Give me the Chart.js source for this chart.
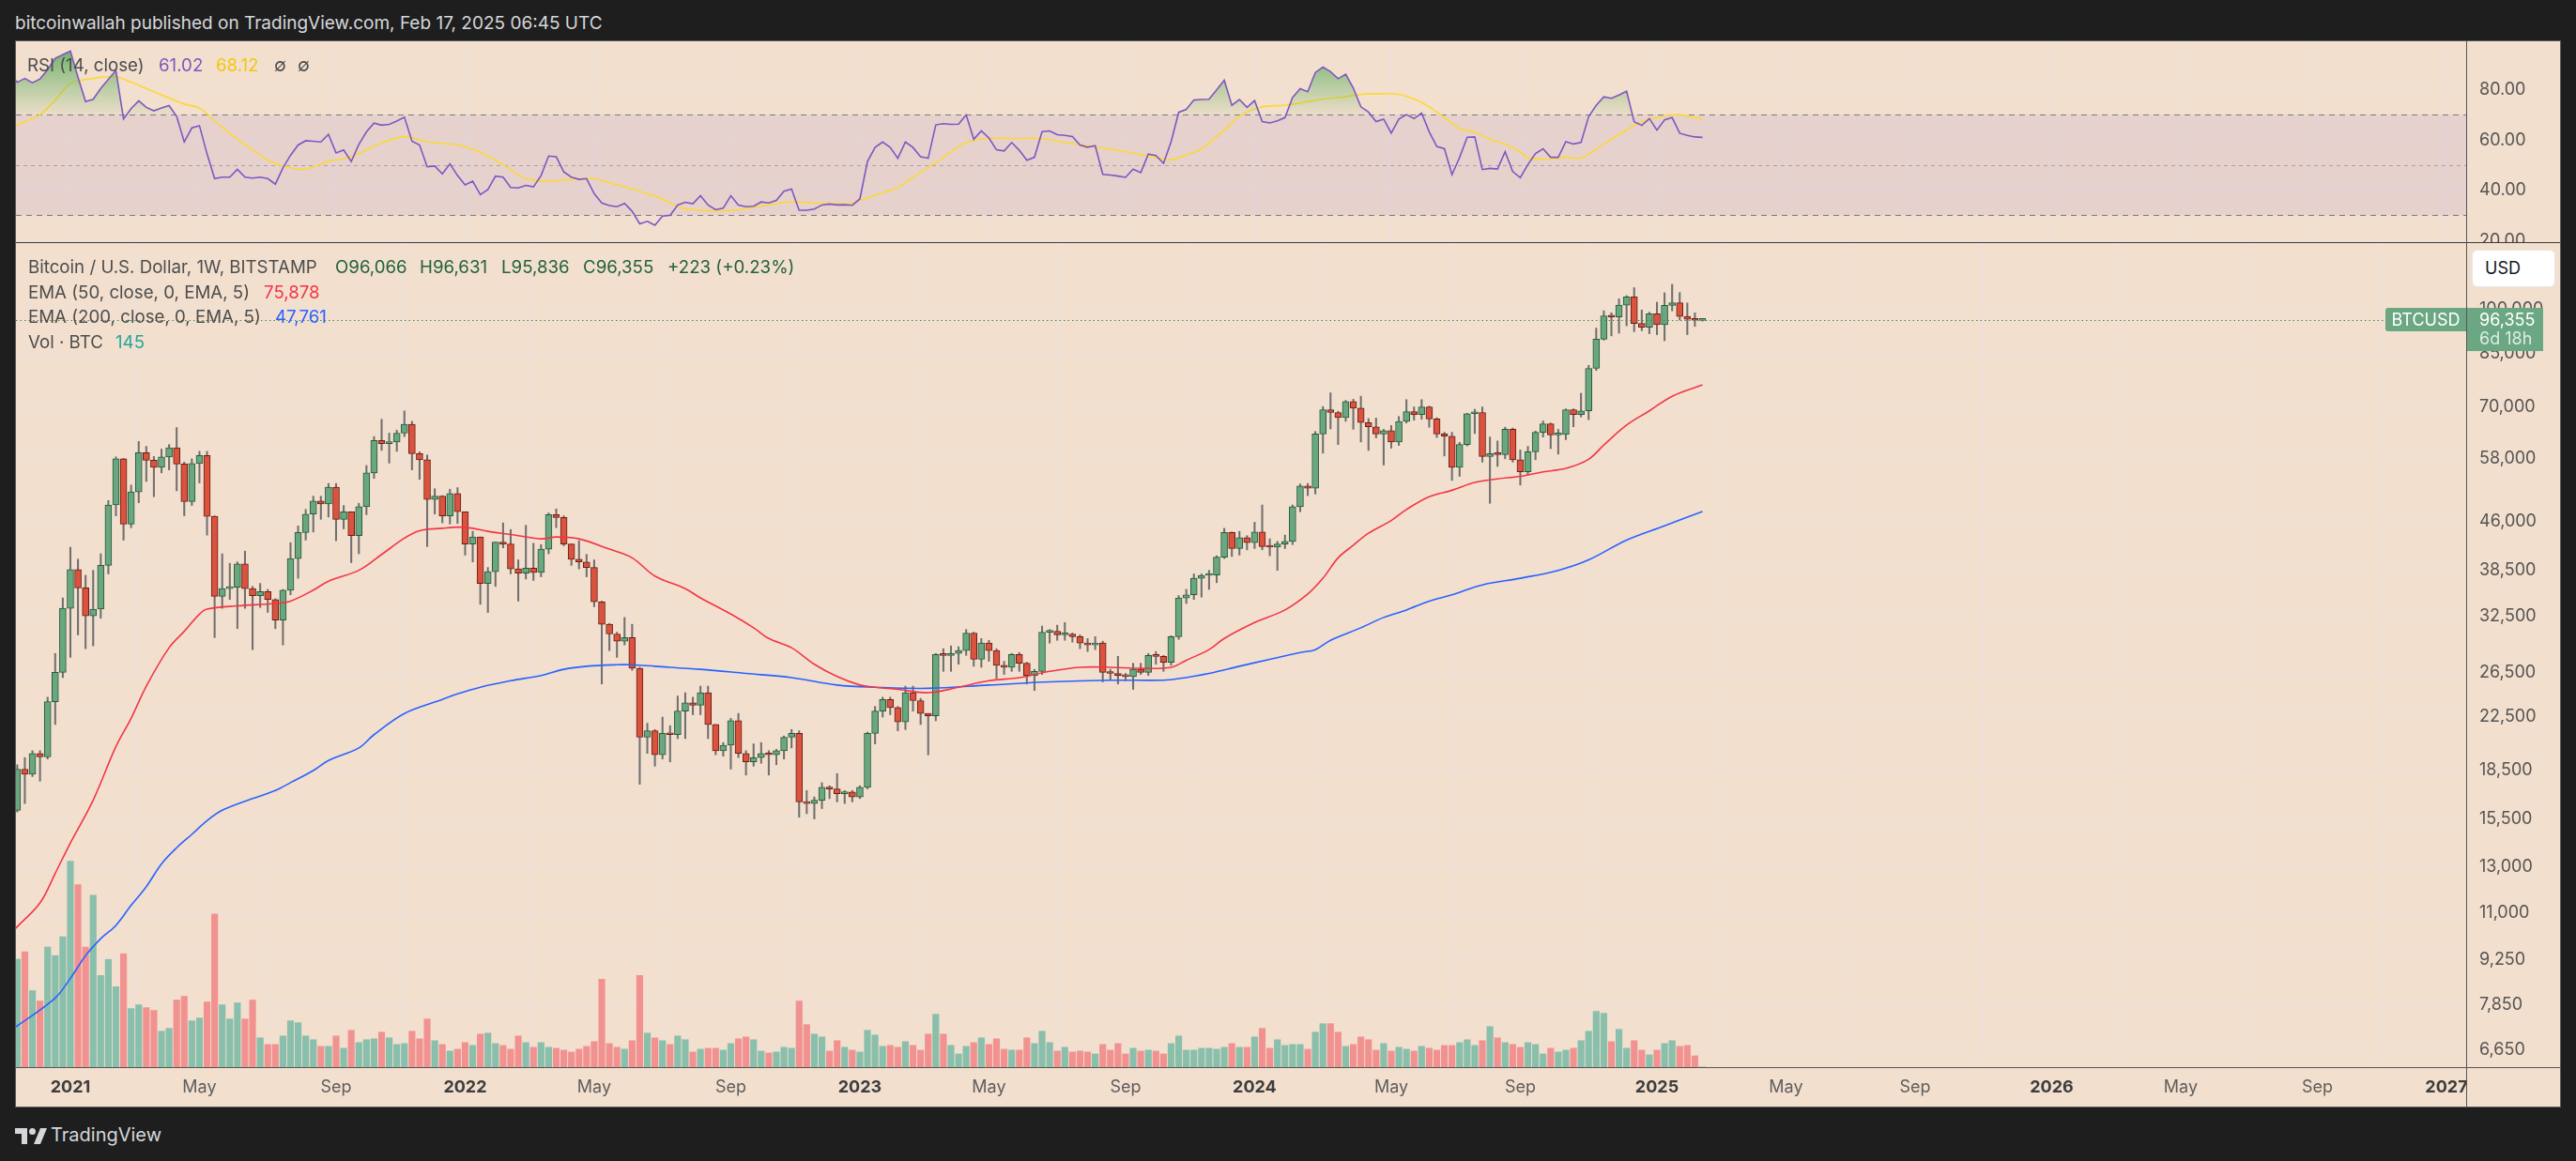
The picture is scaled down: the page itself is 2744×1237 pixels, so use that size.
<!DOCTYPE html>
<html>
<head>
<meta charset="utf-8">
<title>BTCUSD 1W - Bitstamp</title>
<script src="https://cdn.jsdelivr.net/npm/chart.js@4.4.1/dist/chart.umd.min.js"></script>
<style>
  html, body { margin: 0; padding: 0; }
  body { width: 2744px; height: 1237px; background: #1e1e1e; position: relative; overflow: hidden;
         font-family: Inter, "Noto Sans", "DejaVu Sans", sans-serif; }
  .abs { position: absolute; white-space: nowrap; }
  #frame { position: absolute; left: 16px; top: 43px; width: 2712px; height: 1137px; background: #f2dfce;
           box-sizing: border-box; border: 1px solid #5b5b5b; }
  canvas { position: absolute; }
  #rsiCanvas { left: 17px; top: 44px; }
  #mainCanvas { left: 17px; top: 259px; }
  .line { position: absolute; }
  .lg { position: absolute; white-space: nowrap; font-size: 18.7px; height: 22px; line-height: 22px; color: #4d4d4d; }
  .green { color: #22613d; }
</style>
</head>
<body>
<div class="abs" style="left:16px;top:13px;font-size:19px;line-height:24px;color:#d6d7db;">bitcoinwallah published on TradingView.com, Feb 17, 2025 06:45 UTC</div>
<div id="frame"></div>
<canvas id="rsiCanvas" width="2710" height="214"></canvas>
<canvas id="mainCanvas" width="2710" height="920"></canvas>
<div class="line" style="left:17px;top:258px;width:2710px;height:1px;background:#3b3b3b;"></div>
<div class="line" style="left:17px;top:1137px;width:2710px;height:1px;background:#555;"></div>
<div class="line" style="left:2627px;top:44px;width:1px;height:1135px;background:#555;"></div>

<!-- RSI legend -->
<div class="lg" style="left:29px;top:59px;">RSI (14, close)</div>
<div class="lg" id="rsiVal" style="left:169px;top:59px;color:#7e57c2;"></div>
<div class="lg" id="rsiMaVal" style="left:230px;top:59px;color:#f2c80f;"></div>
<div class="lg" style="left:292px;top:59px;">∅</div>
<div class="lg" style="left:317px;top:59px;">∅</div>

<!-- main legend -->
<div class="lg" style="left:30px;top:274px;">Bitcoin / U.S. Dollar, 1W, BITSTAMP</div>
<div class="lg green" id="oVal" style="left:357px;top:274px;"></div>
<div class="lg green" id="hVal" style="left:447px;top:274px;"></div>
<div class="lg green" id="lVal" style="left:534px;top:274px;"></div>
<div class="lg green" id="cVal" style="left:621px;top:274px;"></div>
<div class="lg green" id="chgVal" style="left:711px;top:274px;"></div>
<div class="lg" style="left:30px;top:301px;">EMA (50, close, 0, EMA, 5)</div>
<div class="lg" id="ema50Val" style="left:281px;top:301px;color:#f23645;"></div>
<div class="lg" style="left:30px;top:327px;">EMA (200, close, 0, EMA, 5)</div>
<div class="lg" id="ema200Val" style="left:293px;top:327px;color:#2962ff;"></div>
<div class="lg" style="left:30px;top:354px;">Vol · BTC</div>
<div class="lg" id="volVal" style="left:123px;top:354px;color:#26a69a;"></div>

<!-- currency box -->
<div class="abs" style="left:2633px;top:266px;width:89px;height:40px;background:#fff;border-radius:6px;border:1px solid #e6e6e6;box-sizing:border-box;">
  <div style="position:absolute;left:13px;top:8px;font-size:18px;line-height:22px;color:#131722;">USD</div>
</div>

<!-- footer logo -->
<svg class="abs" style="left:16px;top:1199px;" width="36" height="22" viewBox="0 0 36 22">
  <path d="M13 20H7V9H0V3h13z" fill="#d6d7db"/>
  <circle cx="18.5" cy="6.5" r="3.5" fill="#d6d7db"/>
  <path d="M27 20h-7l7-17h7z" fill="#d6d7db"/>
</svg>
<div class="abs" style="left:54px;top:1197px;font-size:20px;line-height:24px;color:#d6d7db;">TradingView</div>

<script>
// week index 0 = week of Jan 4, 2021; first candle is the week of Nov 16, 2020
const firstWeek = -7;

const opens = [
  16000, 18600, 18250, 19700, 19450, 23800, 26500, 33500, 38600, 36100,
  32600, 33400, 39200, 48900, 57900, 45600, 51300, 59200, 57600, 56100,
  58300, 60300, 56800, 49500, 56900, 58600, 46900, 35000, 36000, 36200,
  39400, 36000, 35100, 35600, 34600, 32100, 35800, 40200, 44200, 47300,
  49600, 49100, 52200, 46400, 47700, 43700, 48600, 55000, 61900, 61200,
  61600, 63600, 65700, 59000, 57700, 49900, 50500, 47000, 51000, 47700,
  42400, 43500, 36700, 38300, 42700, 42400, 38700, 38100, 38800, 38200,
  41600, 47200, 46700, 42400, 40100, 39700, 38900, 34300, 31600, 30500,
  29700, 30100, 26900, 20900, 21400, 19600, 21200, 21100, 23000, 23700,
  23500, 24600, 21900, 19900, 20300, 22200, 19700, 19100, 19400, 19700,
  19600, 19900, 20900, 21200, 16500, 16400, 16600, 17400, 17300, 17000,
  17100, 16800, 17400, 21200, 23000, 24000, 23300, 22100, 24600, 23900,
  22800, 22600, 28300, 28200, 28400, 28700, 30600, 27800, 29500, 28700,
  27200, 27000, 28300, 27400, 26200, 26600, 30700, 30800, 30400, 30500,
  30200, 29500, 29300, 29500, 26500, 26400, 26200, 26100, 26800, 26500,
  28200, 28100, 27500, 30200, 34800, 35200, 37400, 37800, 37850, 40400,
  44200, 41700, 43400, 42600, 44300, 42000, 41900, 42400, 42800, 48600,
  52400, 52000, 63400, 69300, 68600, 67300, 71400, 69700, 66100, 65100,
  63400, 64200, 61600, 66400, 68800, 68100, 70000, 67000, 63400, 62900,
  56100, 61000, 68300, 68600, 58400, 59000, 58800, 64500, 57700, 55200,
  59400, 63800, 65800, 63200, 63300, 69300, 68100, 69000, 80600, 89700,
  97700, 97300, 101600, 104700, 95000, 93700, 98400, 94600, 101500, 102500,
  97500, 96500, 96066
];
const highs = [
  18900, 19400, 19900, 19900, 24200, 28400, 34800, 41900, 40100, 37800,
  38500, 40900, 49700, 58300, 58000, 52600, 61700, 60600, 58400, 60000,
  61000, 64900, 57200, 57900, 59500, 59500, 47000, 40900, 39500, 39700,
  41300, 36300, 36700, 35900, 34700, 35900, 42600, 45300, 48100, 50500,
  50500, 52900, 52900, 48800, 47700, 49200, 56500, 62800, 66900, 63600,
  64300, 69000, 66400, 59400, 58700, 51900, 50600, 51800, 52100, 47600,
  44400, 43500, 38900, 42700, 45800, 44700, 40000, 45400, 42500, 42300,
  47500, 48200, 47000, 42400, 42900, 40800, 40000, 34400, 31700, 30700,
  32400, 31600, 27000, 22000, 21500, 22500, 21800, 24300, 24600, 24200,
  25200, 25200, 21900, 20500, 22400, 22800, 19900, 20400, 20500, 19900,
  20000, 21000, 21500, 21400, 17200, 16800, 17700, 17500, 18300, 17200,
  17200, 17500, 21300, 23400, 24200, 24200, 23400, 25200, 25200, 24100,
  22800, 28400, 28900, 29200, 29100, 31000, 30700, 30000, 29800, 28900,
  27600, 28400, 28500, 27500, 26800, 31400, 31000, 31500, 31800, 30600,
  30400, 30000, 30200, 29700, 26800, 28100, 26400, 27400, 27400, 28400,
  28600, 28200, 30300, 35100, 35900, 38000, 38000, 38500, 40600, 44900,
  44300, 44400, 43700, 45900, 48900, 43200, 42800, 43800, 48900, 52800,
  52900, 64000, 70100, 73700, 68900, 71700, 72000, 72800, 67100, 67200,
  64500, 65400, 67600, 71900, 70000, 71900, 70200, 67300, 63800, 63800,
  61500, 68400, 69400, 70000, 62700, 61800, 65000, 64800, 59800, 60600,
  64100, 66500, 66000, 64500, 69500, 69500, 73600, 81500, 93400, 99500,
  98800, 104000, 105200, 108300, 99800, 99000, 102700, 106300, 109600, 106400,
  102400, 98800, 96631
];
const lows = [
  15900, 16400, 18100, 17800, 19300, 21900, 26000, 28000, 30400, 28900,
  29200, 32300, 38000, 47000, 43000, 45000, 49300, 53300, 50400, 55000,
  55600, 51500, 47000, 48800, 53000, 43800, 30100, 33500, 34600, 31100,
  33500, 28800, 33600, 33000, 31100, 29300, 35200, 37400, 43000, 44300,
  46400, 46800, 42900, 44800, 39600, 40900, 47200, 53900, 59700, 57000,
  59500, 62800, 55600, 53700, 42000, 47300, 45800, 45600, 45700, 40700,
  39700, 34000, 33000, 36300, 41800, 38000, 34400, 37300, 37100, 37600,
  40900, 45000, 42100, 39200, 38700, 37600, 33700, 25400, 28700, 28000,
  29300, 26700, 17600, 19700, 18800, 19300, 19100, 20800, 20800, 22700,
  22700, 20800, 19600, 19500, 18600, 19400, 18200, 18800, 19000, 18200,
  18900, 19300, 20100, 15600, 15800, 15500, 16100, 16700, 16500, 16400,
  16500, 16700, 17300, 20400, 22500, 22700, 21400, 21500, 23000, 21900,
  19600, 22200, 26600, 26600, 27300, 28200, 27100, 27000, 27600, 25900,
  26300, 26600, 26600, 25400, 24800, 26300, 29500, 29800, 29800, 29600,
  28900, 28600, 28800, 25600, 25800, 25400, 25700, 24900, 26300, 26200,
  27300, 26600, 27200, 29900, 34100, 34600, 34900, 35900, 36800, 40200,
  40500, 40700, 41500, 41700, 41500, 40600, 38500, 41700, 42300, 47700,
  50600, 50900, 59100, 64600, 61000, 66400, 64500, 61600, 59700, 62500,
  56600, 60200, 60800, 66000, 66700, 66900, 65000, 62600, 58500, 53500,
  54300, 60700, 63500, 57200, 49200, 56300, 57900, 57200, 52600, 54600,
  57700, 62700, 60100, 58900, 62100, 65100, 67500, 66800, 80000, 89400,
  90800, 91700, 94200, 92200, 92500, 91500, 91200, 89200, 99500, 96200,
  91200, 94000, 95836
];
const closes = [
  18600, 18250, 19700, 19450, 23800, 26500, 33500, 38600, 36100, 32600,
  33400, 39200, 48900, 57900, 45600, 51300, 59200, 57600, 56100, 58300,
  60300, 56800, 49500, 56900, 58600, 46900, 35000, 36000, 36200, 39400,
  36000, 35100, 35600, 34600, 32100, 35800, 40200, 44200, 47300, 49600,
  49100, 52200, 46400, 47700, 43700, 48600, 55000, 61900, 61200, 61600,
  63600, 65700, 59000, 57700, 49900, 50500, 47000, 51000, 47700, 42400,
  43500, 36700, 38300, 42700, 42400, 38700, 38100, 38800, 38200, 41600,
  47200, 46700, 42400, 40100, 39700, 38900, 34300, 31600, 30500, 29700,
  30100, 26900, 20900, 21400, 19600, 21200, 21100, 23000, 23700, 23500,
  24600, 21900, 19900, 20300, 22200, 19700, 19100, 19400, 19700, 19600,
  19900, 20900, 21200, 16500, 16400, 16600, 17400, 17300, 17000, 17100,
  16800, 17400, 21200, 23000, 24000, 23300, 22100, 24600, 23900, 22800,
  22600, 28300, 28200, 28400, 28700, 30600, 27800, 29500, 28700, 27200,
  27000, 28300, 27400, 26200, 26600, 30700, 30800, 30400, 30500, 30200,
  29500, 29300, 29500, 26500, 26400, 26200, 26100, 26800, 26500, 28200,
  28100, 27500, 30200, 34800, 35200, 37400, 37800, 37850, 40400, 44200,
  41700, 43400, 42600, 44300, 42000, 41900, 42400, 42800, 48600, 52400,
  52000, 63400, 69300, 68600, 67300, 71400, 69700, 66100, 65100, 63400,
  64200, 61600, 66400, 68800, 68100, 70000, 67000, 63400, 62900, 56100,
  61000, 68300, 68600, 58400, 59000, 58800, 64500, 57700, 55200, 59400,
  63800, 65800, 63200, 63300, 69300, 68100, 69000, 80600, 89700, 97700,
  97300, 101600, 104700, 95000, 93700, 98400, 94600, 101500, 102500, 97500,
  96500, 96132, 96355
];
const volumes = [
  80000, 85400, 56700, 49000, 88900, 82600, 96600, 152600, 135100, 88900,
  127400, 67900, 79800, 59500, 84000, 43400, 46200, 44100, 42000, 26600,
  28700, 49700, 52500, 34300, 36400, 48300, 113400, 46200, 35700, 47600,
  35700, 49700, 21700, 16800, 16800, 23100, 34300, 32900, 23100, 20300,
  15400, 15400, 23100, 14000, 27300, 18200, 20300, 21000, 25900, 21700,
  16800, 17500, 26600, 21000, 35700, 19600, 16800, 11900, 13300, 18200,
  16100, 24500, 25200, 17500, 16100, 13300, 23100, 18200, 14700, 18200,
  14700, 14000, 12600, 11200, 13300, 15400, 18900, 65100, 17500, 14700,
  13300, 19600, 67900, 25200, 21700, 19600, 16800, 23100, 20300, 11200,
  13300, 14000, 14000, 12600, 17500, 21000, 22400, 20300, 11900, 10500,
  11200, 14700, 14000, 49000, 31500, 24500, 22400, 11900, 19600, 14700,
  12600, 11200, 27300, 23800, 15400, 16100, 14700, 18900, 16100, 12600,
  24500, 39200, 24500, 16100, 9800, 15400, 18200, 21700, 16800, 21000,
  13300, 12600, 12600, 21700, 17500, 26600, 18200, 11900, 14700, 11200,
  11900, 11200, 9800, 16800, 12600, 17500, 9800, 14000, 11900, 12600,
  11900, 9800, 17500, 23100, 12600, 12600, 14000, 14000, 13300, 14700,
  17500, 14700, 14700, 22400, 28700, 14000, 20300, 16100, 16800, 16800,
  13300, 25900, 32200, 32200, 25900, 15400, 16800, 22400, 20300, 12600,
  17500, 11900, 14700, 13300, 11900, 15400, 14000, 12600, 16100, 16100,
  18200, 20300, 16100, 19600, 30100, 21700, 18200, 16800, 14700, 18200,
  16800, 9800, 14000, 11200, 12600, 14000, 19600, 26600, 41300, 39900,
  18900, 28000, 14000, 19600, 12600, 9100, 12600, 17500, 19600, 15400,
  16100, 8400, 145
];

// EMA lines (week index, value)
const ema50Weeks = [-8, -7, -4, -2, 0, 3, 6, 8, 10, 13, 15, 17, 18, 22, 27, 29, 32, 34, 38, 41, 44, 46, 49, 51,
  53, 55, 58, 62, 64, 67, 71, 74, 77, 81, 83, 87, 90, 92, 95, 98, 101, 104, 106, 109, 113, 117, 121, 125, 129,
  133, 137, 141, 145, 147, 150, 152, 156, 160, 163, 165, 167, 169, 171, 174, 176, 179, 182, 185, 188, 191, 194,
  197, 200, 202, 205, 208, 211, 215];
const ema50Values = [10150, 10450, 11400, 12700, 14200, 16600, 20200, 22400, 25200, 29000, 30800, 32800, 33400,
  33800, 34100, 34400, 35800, 37000, 38500, 40800, 43300, 44500, 44900, 45100, 44900, 44400, 43900, 43200, 43500,
  43200, 41600, 40300, 37700, 36000, 34800, 32800, 31200, 30000, 29000, 27300, 26100, 25300, 25100, 24900, 24600,
  25100, 25700, 26000, 26600, 27000, 27000, 26900, 27000, 27700, 28800, 30000, 31800, 33300, 35300, 37400, 40300,
  42200, 44100, 46200, 48100, 50400, 51600, 53100, 53800, 54300, 55200, 55900, 57800, 60900, 65500, 69000, 72800,
  75878];
const ema200Weeks = [-8, -7, -2, 0, 2, 4, 6, 8, 10, 12, 14, 16, 18, 20, 24, 27, 29, 32, 34, 38, 40, 44, 49, 51, 54,
  58, 62, 65, 68, 72, 74, 77, 83, 89, 95, 101, 106, 113, 121, 129, 137, 144, 146, 150, 154, 158, 162, 164, 166,
  170, 173, 176, 179, 182, 186, 191, 196, 200, 205, 210, 215];
const ema200Values = [7150, 7270, 8050, 8650, 9400, 10000, 10500, 11300, 12100, 13150, 13950, 14650, 15400, 16000,
  16700, 17200, 17700, 18500, 19200, 20100, 21100, 22800, 24000, 24500, 25100, 25700, 26200, 26800, 27100, 27250,
  27250, 27100, 26800, 26400, 26000, 25300, 25100, 25000, 25300, 25600, 25750, 25750, 25900, 26400, 27100, 27800,
  28500, 28800, 29800, 31200, 32400, 33300, 34400, 35200, 36500, 37400, 38500, 40000, 43000, 45300, 47761];

// RSI(14), one value per week starting at week -8
const rsiStart = -8;
const rsiValues = [
  86, 83, 84.5, 82.8, 84.3, 88, 92.5, 94, 95.4, 85,
  75.3, 76.2, 80.5, 84.2, 87.7, 68.4, 72.5, 75.6, 73, 71.6,
  72.8, 73.7, 69.4, 59.2, 64.8, 65.7, 54.5, 44.6, 45.2, 45.2,
  48.3, 45.2, 44.8, 45.2, 44.6, 42.4, 48.9, 53.9, 58, 59.7,
  59.5, 59.2, 62.2, 54.8, 56, 51.4, 58.2, 63.2, 66.7, 65.9,
  66.2, 67.5, 69.1, 59.5, 58, 49.3, 49.6, 46.5, 50.5, 45.8,
  42.1, 43.6, 38.2, 40.3, 45.6, 45.2, 41.1, 40.9, 41.9, 41.3,
  45.8, 53.6, 53.3, 47.3, 45.2, 44.3, 44.6, 38.6, 34.9, 33.9,
  33.4, 34.7, 31.6, 26.6, 27.6, 26, 29.7, 30, 34.1, 35.2,
  34.6, 37.8, 34.1, 32.2, 32.8, 37.8, 34.1, 33.4, 33.6, 35.3,
  34.9, 35.9, 39.6, 40.4, 32, 32, 32.5, 34.1, 34.5, 34.1,
  34.2, 34, 36.5, 51.4, 57, 59.2, 57, 52.7, 59.2, 57,
  53.3, 52.7, 66, 66.5, 66.2, 66.3, 70, 60.3, 63.6, 60.8,
  56.1, 55.6, 59, 55.9, 51.9, 53.1, 63.3, 63.6, 62.1, 61.8,
  61.4, 58, 57.1, 57.7, 46.3, 46, 45.6, 45.1, 48.4, 47,
  54.4, 53.8, 50.7, 59.3, 71, 72.2, 75.9, 76.1, 76.2, 80,
  83.8, 73.8, 76.1, 73, 75.7, 67.3, 66.8, 67.6, 68.9, 76.9,
  80.4, 79.2, 86.9, 89, 87.2, 84.4, 86.2, 80.7, 73.2, 71.1,
  67.3, 68.3, 62.7, 68.3, 70.1, 68.5, 70.7, 63.3, 57.4, 56.5,
  46.2, 53, 61.1, 61.2, 48.2, 48.7, 48.4, 55.3, 47.4, 45,
  50.2, 54.6, 56.5, 53.1, 53.1, 59.3, 58.4, 59, 69.3, 73.8,
  77.2, 76.6, 77.9, 79.4, 67.3, 65.8, 68.5, 63.9, 68, 68.9,
  62.7, 61.8, 61.2, 61.02
];
// RSI moving average (week index, value)
const rsiMaWeeks = [-8, -7, -5, -4, -2, 0, 3, 6, 8, 10, 12, 15, 17, 20, 23, 26, 29, 31, 34, 37, 41, 44, 47, 51, 54,
  57, 60, 63, 66, 69, 72, 75, 78, 80, 82, 85, 88, 91, 95, 99, 103, 104, 107, 109, 111, 114, 118, 121, 124, 128,
  131, 134, 139, 142, 145, 147, 149, 152, 154, 157, 160, 162, 165, 168, 170, 172, 175, 177, 179, 181, 183, 185,
  187, 189, 191, 192, 195, 197, 199, 202, 205, 207, 210, 212, 215];
const rsiMaValues = [64.5, 66, 68.5, 70, 75.8, 82.5, 84.5, 85.2, 83, 80.5, 78, 74.3, 72.7, 65, 58.2, 52, 48.9, 48.3,
  51.4, 53.3, 58.8, 61.3, 59.3, 58, 55.1, 50.2, 44.6, 43.6, 44.3, 44.6, 42.1, 39.6, 36.5, 33.4, 32.2, 31.8, 32.2,
  33.7, 35.3, 34.7, 34.7, 35.9, 39, 41.1, 45.2, 51, 59, 60.6, 60.6, 60.5, 59, 57.7, 55.3, 53.6, 52.1, 54, 56.5,
  63.9, 69.5, 73.2, 73.8, 74.7, 76.3, 77.2, 78.2, 78.4, 78.2, 76.3, 73.2, 68.9, 64.5, 63.1, 60.2, 58.4, 55.3, 52.8,
  52.4, 53.1, 52.8, 58.4, 63.9, 67.3, 69.5, 70.1, 68.12];

const tickWeeks = [0, 17, 35, 52, 69, 87, 104, 121, 139, 156, 174, 191, 209, 226, 243, 261, 278, 296, 313];
const tickLabels = ['2021', 'May', 'Sep', '2022', 'May', 'Sep', '2023', 'May', 'Sep', '2024', 'May', 'Sep',
  '2025', 'May', 'Sep', '2026', 'May', 'Sep', '2027'];
const priceTicks = [6650, 7850, 9250, 11000, 13000, 15500, 18500, 22500, 26500, 32500, 38500, 46000, 58000,
  70000, 85000, 100000];
const rsiTicks = [20, 40, 60, 80];
const rsiLevels = [70, 50, 30];

// ---- view settings ----
const xMin = -7.17, xMax = 315.6;
const priceMin = 6250, priceMax = 127500;
const rsiMin = 19.3, rsiMax = 99.3;
const gridColor = '#e9e2df';
const axisText = '#555555';
const upBody = '#6aa67f', upBorder = '#245c38';
const downBody = '#d9533f', downBorder = '#6b1d15';
const tagGreen = '#6aa782';

Chart.defaults.font.family = "Inter, 'Noto Sans', sans-serif";
Chart.defaults.font.size = 18;
Chart.defaults.color = axisText;

const fmt = v => v.toLocaleString('en-US');
const weeks = closes.map((c, i) => firstWeek + i);
const up = closes.map((c, i) => c >= opens[i]);
const isYear = i => /^\d{4}$/.test(tickLabels[i]);

function noPad(s) { s.paddingTop = 0; s.paddingBottom = 0; s.paddingLeft = 0; s.paddingRight = 0; }

function weekAxis(showLabels) {
  return {
    type: 'linear', min: xMin, max: xMax, offset: false,
    afterBuildTicks: s => { s.ticks = tickWeeks.map(v => ({ value: v })); },
    afterFit: s => { s.height = showLabels ? 42 : 0; noPad(s); },
    ticks: {
      display: showLabels, autoSkip: false, maxRotation: 0, padding: 11,
      color: c => isYear(c.index) ? '#3d3d3d' : '#5e5e5e',
      font: c => ({ size: 18, weight: isYear(c.index) ? '700' : '400' }),
      callback: (v, i) => tickLabels[i]
    },
    grid: { color: gridColor, drawTicks: false },
    border: { display: false }
  };
}

// ---- legend texts ----
const n = closes.length - 1;
document.getElementById('oVal').textContent = 'O' + fmt(opens[n]);
document.getElementById('hVal').textContent = 'H' + fmt(highs[n]);
document.getElementById('lVal').textContent = 'L' + fmt(lows[n]);
document.getElementById('cVal').textContent = 'C' + fmt(closes[n]);
const chg = closes[n] - closes[n - 1];
document.getElementById('chgVal').textContent = (chg >= 0 ? '+' : '') + fmt(chg) + ' (' + (chg >= 0 ? '+' : '') + (chg / closes[n - 1] * 100).toFixed(2) + '%)';
document.getElementById('ema50Val').textContent = fmt(ema50Values[ema50Values.length - 1]);
document.getElementById('ema200Val').textContent = fmt(ema200Values[ema200Values.length - 1]);
document.getElementById('volVal').textContent = fmt(volumes[n]);
document.getElementById('rsiVal').textContent = rsiValues[rsiValues.length - 1].toFixed(2);
document.getElementById('rsiMaVal').textContent = rsiMaValues[rsiMaValues.length - 1].toFixed(2);

// ---- RSI pane ----
const rsiGuides = {
  id: 'rsiGuides',
  beforeDatasetsDraw(chart) {
    const { ctx, chartArea: a, scales: { y } } = chart;
    ctx.save();
    const top = y.getPixelForValue(rsiLevels[0]);
    const bottom = y.getPixelForValue(rsiLevels[2]);
    ctx.fillStyle = 'rgba(126,87,194,0.1)';
    ctx.fillRect(a.left, top, a.right - a.left, bottom - top);
    rsiLevels.forEach((lvl, i) => {
      const py = Math.round(y.getPixelForValue(lvl)) + 0.5;
      ctx.beginPath();
      ctx.setLineDash(i === 1 ? [4, 4] : [6, 5]);
      ctx.strokeStyle = i === 1 ? 'rgba(120,123,134,0.55)' : '#787b86';
      ctx.lineWidth = 1;
      ctx.moveTo(a.left, py);
      ctx.lineTo(a.right, py);
      ctx.stroke();
    });
    ctx.restore();
  }
};

new Chart(document.getElementById('rsiCanvas'), {
  type: 'line',
  data: {
    datasets: [
      {
        label: 'RSI',
        data: rsiValues.map((v, i) => ({ x: rsiStart + i, y: v })),
        borderColor: '#7e57c2', borderWidth: 1.6, pointRadius: 0, tension: 0,
        fill: { target: { value: rsiLevels[0] }, below: 'rgba(0,0,0,0)' },
        backgroundColor: c => {
          const chart = c.chart;
          if (!chart.chartArea) return 'rgba(76,175,80,0.3)';
          const y = chart.scales.y;
          const g = chart.ctx.createLinearGradient(0, y.getPixelForValue(95), 0, y.getPixelForValue(rsiLevels[0]));
          g.addColorStop(0, 'rgba(67,160,71,0.7)');
          g.addColorStop(1, 'rgba(76,175,80,0.04)');
          return g;
        }
      },
      {
        label: 'RSI MA',
        data: rsiMaWeeks.map((w, i) => ({ x: w, y: rsiMaValues[i] })),
        borderColor: '#fdd835', borderWidth: 1.6, pointRadius: 0, tension: 0.3, fill: false
      }
    ]
  },
  options: {
    responsive: false, animation: false, devicePixelRatio: 1,
    layout: { padding: 0 },
    plugins: { legend: { display: false }, tooltip: { enabled: false } },
    scales: {
      x: weekAxis(false),
      y: {
        type: 'linear', position: 'right', min: rsiMin, max: rsiMax,
        afterBuildTicks: s => { s.ticks = rsiTicks.map(v => ({ value: v })); },
        afterFit: s => { s.width = 100; noPad(s); },
        ticks: { autoSkip: false, padding: 14, crossAlign: 'near', color: axisText, callback: v => v.toFixed(2) },
        grid: { color: gridColor, drawTicks: false },
        border: { display: false }
      }
    }
  },
  plugins: [rsiGuides]
});

// ---- price pane ----
const lastPrice = {
  id: 'lastPrice',
  afterDatasetsDraw(chart) {
    const { ctx, chartArea: a, scales: { y } } = chart;
    const py = Math.round(y.getPixelForValue(closes[n])) + 0.5;
    ctx.save();
    ctx.setLineDash([1.5, 3]);
    ctx.strokeStyle = '#3f8a5a';
    ctx.lineWidth = 1;
    ctx.beginPath();
    ctx.moveTo(a.left, py);
    ctx.lineTo(a.right, py);
    ctx.stroke();
    ctx.restore();
  },
  afterDraw(chart) {
    const { ctx, chartArea: a, scales: { y } } = chart;
    const py = y.getPixelForValue(closes[n]);
    ctx.save();
    ctx.fillStyle = tagGreen;
    ctx.beginPath();
    ctx.roundRect(a.right - 86, py - 12.5, 86, 25, [3, 0, 0, 3]);
    ctx.fill();
    ctx.fillRect(a.right, py - 12.5, 82, 46);
    ctx.font = "18px Inter, 'Noto Sans', sans-serif";
    ctx.textBaseline = 'middle';
    ctx.fillStyle = '#ffffff';
    ctx.textAlign = 'center';
    ctx.fillText('BTCUSD', a.right - 43, py + 1);
    ctx.textAlign = 'left';
    ctx.fillText(fmt(closes[n]), a.right + 14, py + 1);
    ctx.fillStyle = 'rgba(255,255,255,0.78)';
    ctx.fillText('6d 18h', a.right + 14, py + 21);
    ctx.restore();
  }
};

new Chart(document.getElementById('mainCanvas'), {
  type: 'bar',
  data: {
    datasets: [
      {
        type: 'line', label: 'EMA 50',
        data: ema50Weeks.map((w, i) => ({ x: w, y: ema50Values[i] })),
        borderColor: '#f23645', borderWidth: 1.6, pointRadius: 0, tension: 0.35, yAxisID: 'y', order: 0
      },
      {
        type: 'line', label: 'EMA 200',
        data: ema200Weeks.map((w, i) => ({ x: w, y: ema200Values[i] })),
        borderColor: '#2962ff', borderWidth: 1.6, pointRadius: 0, tension: 0.35, yAxisID: 'y', order: 0
      },
      {
        label: 'Bodies',
        data: weeks.map((w, i) => ({ x: w, y: [opens[i], closes[i]] })),
        backgroundColor: up.map(u => u ? upBody : downBody),
        borderColor: up.map(u => u ? upBorder : downBorder),
        borderWidth: 1, borderSkipped: false, barThickness: 7, minBarLength: 2,
        grouped: false, yAxisID: 'y', order: 1
      },
      {
        label: 'Wicks',
        data: weeks.map((w, i) => ({ x: w, y: [lows[i], highs[i]] })),
        backgroundColor: '#707070', barThickness: 1.4, grouped: false, yAxisID: 'y', order: 2
      },
      {
        label: 'Volume',
        data: weeks.map((w, i) => ({ x: w, y: volumes[i] })),
        backgroundColor: up.map(u => u ? 'rgba(8,153,129,0.45)' : 'rgba(242,54,69,0.45)'),
        barThickness: 6.5, grouped: false, yAxisID: 'yVol', order: 5
      }
    ]
  },
  options: {
    responsive: false, animation: false, devicePixelRatio: 1,
    layout: { padding: 0 },
    plugins: { legend: { display: false }, tooltip: { enabled: false } },
    scales: {
      x: weekAxis(true),
      y: {
        type: 'logarithmic', position: 'right', min: priceMin, max: priceMax,
        afterBuildTicks: s => { s.ticks = priceTicks.map(v => ({ value: v })); },
        afterFit: s => { s.width = 100; noPad(s); },
        ticks: { autoSkip: false, padding: 14, crossAlign: 'near', color: axisText, callback: v => fmt(v) },
        grid: { color: gridColor, drawTicks: false },
        border: { display: false }
      },
      yVol: { type: 'linear', display: false, min: 0, max: Math.max(...volumes) * 4 }
    }
  },
  plugins: [lastPrice]
});
</script>
</body>
</html>
